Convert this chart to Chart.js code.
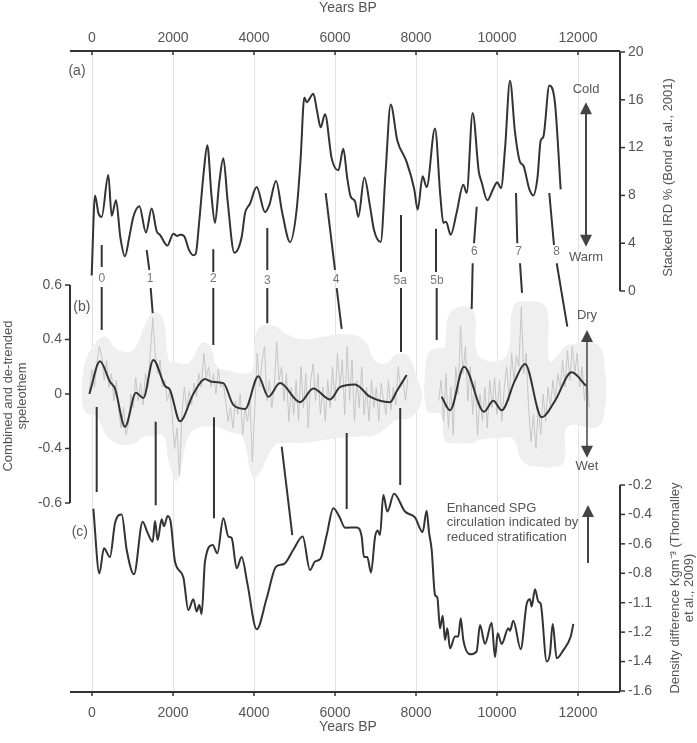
<!DOCTYPE html>
<html>
<head>
<meta charset="utf-8">
<script src="https://cdn.jsdelivr.net/npm/chart.js@4.4.1/dist/chart.umd.min.js"></script>
<style>
  html, body { margin: 0; padding: 0; background: #fff; }
  #wrap { width: 697px; height: 743px; }
</style>
</head>
<body>
<div id="wrap"><canvas id="holocene-chart" width="697" height="743"></canvas></div>
<script>
// tick labels
const yearTicks = [0, 2000, 4000, 6000, 8000, 10000, 12000]
const irdTicks = [0, 4, 8, 12, 16, 20]
const spelTickLabels = [0.6, 0.4, 0, -0.4, -0.6]
const densTickLabels = [-0.2, -0.4, -0.6, -0.8, -1.1, -1.2, -1.4, -1.6]

// (a) stacked IRD %, [years BP, %]
const irdSeries = [
  [-8, 1.3], [74, 8.0], [160, 6.5], [239, 6.2], [403, 9.7], [486, 6.3], [593, 7.6], [700, 4.5],
  [815, 2.9], [920, 4.5], [1020, 6.2], [1169, 7.1], [1333, 4.9], [1473, 6.9], [1597, 5.0],
  [1679, 4.7], [1860, 3.8], [2008, 4.8], [2100, 4.6], [2173, 4.7], [2272, 4.6], [2400, 3.4],
  [2502, 3.0], [2560, 3.1], [2650, 5.9], [2760, 10.0], [2848, 12.2], [2950, 8.0], [3037, 5.7],
  [3140, 9.0], [3243, 11.1], [3350, 7.5], [3514, 3.2], [3695, 4.5], [3778, 6.5], [3901, 7.3],
  [4066, 8.7], [4272, 6.6], [4379, 7.2], [4543, 9.2], [4700, 6.5], [4889, 4.1], [5053, 6.8],
  [5150, 11.0], [5243, 16.2], [5300, 15.8], [5465, 16.5], [5560, 15.0], [5646, 13.7],
  [5753, 14.8], [5918, 11.1], [6082, 10.1], [6206, 11.9], [6300, 9.5], [6387, 7.9], [6494, 7.5],
  [6576, 6.2], [6725, 9.5], [6864, 7.1], [6963, 5.1], [7128, 4.1], [7250, 10.0], [7375, 15.6],
  [7539, 12.6], [7769, 10.8], [7958, 8.5], [8041, 6.8], [8164, 9.6], [8263, 8.7], [8469, 13.6],
  [8600, 8.0], [8675, 5.7], [8741, 5.8], [8856, 4.7], [9000, 6.5], [9169, 8.9], [9251, 8.2],
  [9399, 14.9], [9550, 10.0], [9621, 9.1], [9761, 7.6], [9900, 8.5], [10008, 9.1], [10099, 8.6],
  [10200, 12.0], [10321, 17.6], [10444, 13.3], [10568, 10.8], [10650, 10.5], [10800, 8.5],
  [10897, 8.0], [11000, 9.5], [11079, 12.6], [11144, 12.9], [11292, 17.2], [11432, 15.7],
  [11572, 8.5]
]

// (b) combined speleothem, smoothed
const spelSmooth1 = [
  [-66, 0.0], [198, 0.24], [444, 0.09], [568, 0.04], [815, -0.24], [1086, 0.01], [1267, -0.03],
  [1514, 0.25], [1802, 0.06], [1926, 0.03], [2173, -0.2], [2502, 0.0], [2790, 0.11], [2955, 0.09],
  [3243, 0.08], [3490, -0.08], [3778, -0.11], [4107, 0.13], [4354, -0.02], [4642, 0.08],
  [5136, -0.06], [5465, 0.04], [5877, -0.04], [6123, 0.05], [6494, 0.07], [6864, -0.02],
  [7358, -0.06], [7523, 0.02], [7770, 0.14]
]
const spelSmooth2 = [
  [8634, -0.02], [8840, -0.12], [9185, 0.2], [9679, -0.13], [9909, -0.05], [10115, -0.12],
  [10444, 0.1], [10691, 0.22], [11103, -0.17], [11432, -0.05], [11844, 0.16], [12198, 0.06]
]

// (b) raw speleothem record
const spelRaw1 = [
  [-70, 0.02], [0, 0.18], [60, 0.05], [120, 0.22], [180, 0.35], [240, 0.28], [300, 0.1],
  [360, 0.25], [420, 0.05], [480, 0.15], [540, -0.05], [600, 0.1], [660, -0.12], [720, -0.25],
  [780, -0.1], [840, -0.3], [900, -0.22], [960, 0.0], [1020, -0.1], [1080, 0.12], [1140, -0.05],
  [1200, 0.08], [1260, -0.08], [1320, 0.15], [1380, 0.05], [1440, 0.3], [1500, 0.48], [1560, 0.3],
  [1620, 0.15], [1680, 0.25], [1740, 0.05], [1800, 0.1], [1860, -0.05], [1920, 0.02], [1980, -0.15],
  [2040, -0.4], [2100, -0.25], [2160, -0.5], [2220, -0.15], [2280, 0.05], [2340, -0.12],
  [2400, 0.02], [2460, -0.08], [2520, 0.08], [2580, -0.02], [2640, 0.15], [2700, 0.05],
  [2760, 0.3], [2820, 0.12], [2880, 0.2], [2940, 0.05], [3000, 0.15], [3060, 0.0], [3120, 0.18],
  [3180, 0.05], [3240, 0.08], [3300, -0.05], [3360, -0.2], [3420, -0.1], [3480, -0.25],
  [3540, -0.05], [3600, -0.15], [3660, 0.0], [3720, -0.3], [3780, -0.1], [3840, -0.2],
  [3900, -0.05], [3960, -0.45], [4020, -0.1], [4080, 0.3], [4140, 0.05], [4200, 0.25],
  [4260, 0.35], [4320, -0.05], [4380, 0.1], [4440, -0.1], [4500, 0.05], [4560, 0.38], [4620, 0.1],
  [4680, 0.2], [4740, -0.05], [4800, 0.15], [4860, -0.2], [4920, 0.05], [4980, -0.15], [5040, 0.1],
  [5100, -0.2], [5160, 0.2], [5220, -0.1], [5280, 0.15], [5340, -0.25], [5400, 0.1], [5460, 0.22],
  [5520, -0.05], [5580, 0.15], [5640, -0.15], [5700, 0.05], [5760, -0.2], [5820, 0.1],
  [5880, -0.1], [5940, 0.2], [6000, -0.05], [6060, 0.3], [6120, 0.05], [6180, 0.25],
  [6240, -0.15], [6300, 0.35], [6360, -0.05], [6420, 0.25], [6480, -0.2], [6540, 0.1],
  [6600, -0.1], [6660, 0.2], [6720, -0.15], [6780, 0.05], [6840, -0.2], [6900, 0.1],
  [6960, -0.1], [7020, 0.05], [7080, -0.2], [7140, 0.08], [7200, -0.05], [7260, -0.15],
  [7320, 0.1], [7380, -0.12], [7440, 0.05], [7500, -0.08], [7560, 0.2], [7620, 0.05],
  [7680, 0.1], [7740, -0.05], [7800, 0.12]
]
const spelRaw2 = [
  [8560, -0.05], [8620, 0.1], [8680, -0.2], [8740, 0.15], [8800, -0.25], [8860, 0.05],
  [8920, -0.3], [8980, 0.2], [9040, 0.0], [9100, 0.45], [9160, 0.15], [9220, 0.35], [9280, -0.05],
  [9340, 0.2], [9400, -0.15], [9460, 0.1], [9520, -0.3], [9580, 0.0], [9640, -0.2], [9700, 0.05],
  [9760, -0.25], [9820, 0.1], [9880, -0.1], [9940, 0.12], [10000, -0.15], [10060, 0.1],
  [10120, -0.2], [10180, 0.05], [10240, 0.2], [10300, -0.05], [10360, 0.3], [10420, 0.1],
  [10480, 0.28], [10540, 0.2], [10600, 0.52], [10660, 0.15], [10720, 0.3], [10780, -0.1],
  [10840, -0.35], [10900, -0.15], [10960, -0.4], [11020, -0.1], [11080, -0.3], [11140, 0.0],
  [11200, -0.2], [11260, 0.05], [11320, -0.1], [11380, 0.1], [11440, -0.05], [11500, 0.15],
  [11560, 0.05], [11620, 0.25], [11680, 0.05], [11740, 0.32], [11800, 0.1], [11860, 0.35],
  [11920, 0.15], [11980, 0.3], [12040, 0.05], [12100, 0.2], [12160, -0.05], [12220, 0.1],
  [12280, -0.1]
]

// (b) uncertainty envelope, [years BP, upper, lower]
const spelBand1 = [
  [-250, 0.1, -0.05], [-150, 0.25, -0.14], [100, 0.38, -0.16], [350, 0.41, -0.3],
  [600, 0.33, -0.36], [1000, 0.32, -0.37], [1300, 0.45, -0.31], [1500, 0.5, -0.31],
  [1750, 0.48, -0.3], [1900, 0.25, -0.45], [2100, 0.23, -0.52], [2400, 0.23, -0.3],
  [2700, 0.37, -0.24], [2900, 0.36, -0.24], [3100, 0.2, -0.24], [3400, 0.17, -0.28],
  [3700, 0.15, -0.31], [3950, 0.17, -0.5], [4100, 0.44, -0.5], [4500, 0.45, -0.38],
  [4800, 0.42, -0.36], [5200, 0.4, -0.36], [5700, 0.41, -0.34], [6200, 0.42, -0.32],
  [6700, 0.4, -0.31], [7000, 0.24, -0.3], [7300, 0.23, -0.24], [7500, 0.29, -0.19],
  [7800, 0.28, -0.18], [8050, 0.1, -0.12], [8150, 0.02, -0.04]
]
const spelBand2 = [
  [8200, 0.05, -0.02], [8300, 0.3, -0.13], [8600, 0.34, -0.15], [8700, 0.34, -0.34],
  [8850, 0.5, -0.36], [9400, 0.51, -0.36], [9550, 0.28, -0.34], [10200, 0.27, -0.32],
  [10400, 0.52, -0.33], [10650, 0.54, -0.45], [11200, 0.52, -0.47], [11300, 0.24, -0.47],
  [11650, 0.34, -0.45], [11750, 0.36, -0.24], [12500, 0.36, -0.24], [12700, 0.1, -0.05]
]

// (c) density difference, [years BP, Kg m-3]
const densSeries = [
  [33, -0.36], [181, -0.8], [296, -0.63], [444, -0.69], [568, -0.46], [733, -0.4], [856, -0.64],
  [1037, -0.81], [1251, -0.45], [1366, -0.52], [1498, -0.585], [1556, -0.445], [1621, -0.574],
  [1720, -0.433], [1778, -0.48], [1869, -0.41], [1942, -0.45], [2049, -0.72], [2255, -0.84],
  [2379, -1.125], [2502, -1.064], [2584, -1.13], [2650, -1.108], [2708, -1.138], [2790, -0.72],
  [2980, -0.608], [3094, -0.664], [3243, -0.426], [3366, -0.55], [3449, -0.56], [3572, -0.766],
  [3695, -0.69], [3835, -0.9], [4066, -1.19], [4313, -1.055], [4543, -0.755], [4741, -0.737],
  [4971, -0.64], [5202, -0.55], [5383, -0.778], [5506, -0.72], [5646, -0.7], [5795, -0.54],
  [5959, -0.358], [6107, -0.415], [6250, -0.49], [6535, -0.488], [6659, -0.55], [6716, -0.69],
  [6798, -0.69], [6889, -0.796], [6988, -0.555], [7054, -0.51], [7111, -0.54], [7193, -0.268],
  [7292, -0.38], [7457, -0.26], [7728, -0.38], [7975, -0.42], [8164, -0.52], [8263, -0.375],
  [8321, -0.52], [8387, -0.64], [8469, -1.02], [8527, -1.046], [8593, -1.187], [8659, -1.144],
  [8716, -1.254], [8773, -1.187], [8840, -1.31], [8963, -1.23], [9045, -1.23], [9104, -1.153],
  [9169, -1.254], [9333, -1.35], [9498, -1.33], [9580, -1.176], [9704, -1.28], [9868, -1.168],
  [9951, -1.37], [10017, -1.208], [10115, -1.28], [10280, -1.187], [10321, -1.195],
  [10403, -1.161], [10585, -1.316], [10733, -1.104], [10815, -1.064], [10856, -1.113],
  [10938, -0.962], [11020, -1.088], [11079, -1.104], [11227, -1.4], [11309, -1.344],
  [11375, -1.172], [11474, -1.378], [11638, -1.322], [11820, -1.23], [11885, -1.172]
]

// Bond events and the tie lines between the records
const eventNames = ['0', '1', '2', '3', '4', '5a', '5b', '6', '7', '8']
const eventLabelAt = [
  [240, 1.0], [1432, 1.0], [2995, 1.0], [4328, 0.9], [6025, 0.95], [7610, 0.9], [8519, 0.9],
  [9440, 3.3], [10536, 3.3], [11474, 3.3]
]
const eventTiesA = [
  [240, 3.85, 240, 2.0], [1351, 3.43, 1415, 1.76], [2995, 3.5, 2995, 1.6], [4328, 5.27, 4328, 1.76],
  [5770, 8.2, 6000, 1.76], [7630, 6.36, 7630, 1.6], [8494, 5.2, 8494, 1.6], [9499, 7.05, 9432, 4.0],
  [10469, 8.2, 10501, 4.0], [11291, 8.2, 11407, 3.85]
]
const eventTiesB = [
  [240, 0.593, 240, 0.435], [1449, 0.589, 1499, 0.497], [2995, 0.589, 2995, 0.36],
  [4328, 0.589, 4328, 0.46], [6042, 0.589, 6165, 0.439], [7630, 0.589, 7630, 0.308],
  [8511, 0.589, 8511, 0.396], [9400, 0.68, 9375, 0.512], [10568, 0.68, 10617, 0.571],
  [11474, 0.68, 11736, 0.447]
]
const eventTiesC = [
  [116, -0.096, 116, -0.56], [1573, -0.204, 1573, -0.608], [3012, -0.17, 3012, -0.656],
  [4684, -0.387, 4946, -0.718], [6289, -0.287, 6289, -0.622], [7610, -0.103, 7610, -0.534]
]

const FONT = '"Liberation Sans", Arial, sans-serif'
const INK = '#333'
const TEXT = '#555'

// the speleothem and density axes are evenly spaced but their labels are not,
// so values are placed by interpolating between neighbouring tick labels
function toIdx (v, labels) {
  let i = 0
  while (i < labels.length - 2 && v < labels[i + 1]) i++
  return i + (labels[i] - v) / (labels[i] - labels[i + 1])
}
const toB = v => toIdx(v, spelTickLabels)
const toC = v => toIdx(v, densTickLabels)

function pts (pairs, map) {
  return pairs.map(([x, y]) => ({ x, y: map ? map(y) : y }))
}

function ties (list, map) {
  const out = []
  for (const [x1, y1, x2, y2] of list) {
    out.push({ x: x1, y: map ? map(y1) : y1 }, { x: x2, y: map ? map(y2) : y2 }, { x: x2, y: null })
  }
  return out
}

function lineSet (data, axis, color, width, extra) {
  return Object.assign({
    data,
    yAxisID: axis,
    borderColor: color,
    borderWidth: width,
    pointRadius: 0,
    fill: false,
    cubicInterpolationMode: 'monotone'
  }, extra || {})
}

function bandSet (data, col, fill) {
  return {
    data: data.map(r => ({ x: r[0], y: toB(r[col]) })),
    yAxisID: 'yB',
    borderWidth: 0,
    borderColor: 'rgba(0,0,0,0)',
    backgroundColor: '#efefef',
    pointRadius: 0,
    tension: 0.4,
    fill
  }
}

function drawArrow (ctx, x, yTop, yBot, heads, color, width) {
  const hw = 6
  const hl = 12
  ctx.strokeStyle = color
  ctx.fillStyle = color
  ctx.lineWidth = width
  ctx.beginPath()
  ctx.moveTo(x, heads.top ? yTop + hl - 1 : yTop)
  ctx.lineTo(x, heads.bottom ? yBot - hl + 1 : yBot)
  ctx.stroke()
  if (heads.top) {
    ctx.beginPath()
    ctx.moveTo(x, yTop)
    ctx.lineTo(x - hw, yTop + hl)
    ctx.lineTo(x + hw, yTop + hl)
    ctx.closePath()
    ctx.fill()
  }
  if (heads.bottom) {
    ctx.beginPath()
    ctx.moveTo(x, yBot)
    ctx.lineTo(x - hw, yBot - hl)
    ctx.lineTo(x + hw, yBot - hl)
    ctx.closePath()
    ctx.fill()
  }
}

function drawYAxis (ctx, xPix, scale, ticks, labels, side) {
  const dir = side === 'right' ? 1 : -1
  ctx.strokeStyle = INK
  ctx.lineWidth = 2
  ctx.beginPath()
  ctx.moveTo(xPix, scale.getPixelForValue(ticks[0]))
  ctx.lineTo(xPix, scale.getPixelForValue(ticks[ticks.length - 1]))
  ctx.stroke()
  ctx.font = `14px ${FONT}`
  ctx.fillStyle = TEXT
  ctx.textAlign = side === 'right' ? 'left' : 'right'
  ctx.textBaseline = 'middle'
  ctx.lineWidth = 1.5
  ticks.forEach((t, i) => {
    const py = scale.getPixelForValue(t)
    ctx.beginPath()
    ctx.moveTo(xPix, py)
    ctx.lineTo(xPix + dir * 5, py)
    ctx.stroke()
    ctx.fillText(String(labels[i]), xPix + dir * 8, py)
  })
}

function drawXAxis (ctx, yPix, x, area, labelY, titleY) {
  ctx.strokeStyle = INK
  ctx.lineWidth = 2
  ctx.beginPath()
  ctx.moveTo(area.left, yPix)
  ctx.lineTo(area.right, yPix)
  ctx.stroke()
  ctx.lineWidth = 1.5
  ctx.font = `14px ${FONT}`
  ctx.fillStyle = TEXT
  ctx.textAlign = 'center'
  ctx.textBaseline = 'middle'
  for (const t of yearTicks) {
    const px = x.getPixelForValue(t)
    ctx.beginPath()
    ctx.moveTo(px, yPix)
    ctx.lineTo(px, yPix + 4)
    ctx.stroke()
    ctx.fillText(String(t), px, labelY)
  }
  ctx.fillText('Years BP', (area.left + area.right) / 2 + 3, titleY)
}

function rotatedText (ctx, lines, cx, cy, gap) {
  ctx.save()
  ctx.translate(cx, cy)
  ctx.rotate(-Math.PI / 2)
  ctx.textAlign = 'center'
  ctx.textBaseline = 'middle'
  lines.forEach((s, i) => ctx.fillText(s, 0, i * gap))
  ctx.restore()
}

const panelDecor = {
  id: 'panelDecor',
  beforeDatasetsDraw (chart) {
    const { ctx, chartArea, scales: { x } } = chart
    ctx.save()
    ctx.strokeStyle = '#e2e2e2'
    ctx.lineWidth = 1
    for (const t of yearTicks) {
      const px = Math.round(x.getPixelForValue(t)) + 0.5
      ctx.beginPath()
      ctx.moveTo(px, chartArea.top)
      ctx.lineTo(px, chartArea.bottom)
      ctx.stroke()
    }
    ctx.restore()
  },
  afterDatasetsDraw (chart) {
    const { ctx, chartArea, scales: { x, yA, yB, yC } } = chart
    ctx.save()

    drawXAxis(ctx, chartArea.top, x, chartArea, chartArea.top - 13, 8)
    drawXAxis(ctx, chartArea.bottom, x, chartArea, chartArea.bottom + 21, chartArea.bottom + 35)
    drawYAxis(ctx, chartArea.right, yA, irdTicks, irdTicks, 'right')
    drawYAxis(ctx, chartArea.left, yB, spelTickLabels.map((v, i) => i), spelTickLabels, 'left')
    drawYAxis(ctx, chartArea.right, yC, densTickLabels.map((v, i) => i), densTickLabels, 'right')

    // axis titles
    ctx.font = `13px ${FONT}`
    ctx.fillStyle = TEXT
    rotatedText(ctx, ['Stacked IRD % (Bond et al., 2001)'], 668, yA.getPixelForValue(9.5), 0)
    rotatedText(ctx, ['Combined and de-trended', 'speleothem'], 8, yB.getPixelForValue(toB(0)) + 2, 14)
    rotatedText(ctx, ['Density difference Kgm\u207B\u00B3 (Thornalley', 'et al., 2009)'], 675, yC.getPixelForValue(toC(-0.95)), 14)

    // panel letters
    ctx.font = `14px ${FONT}`
    ctx.textAlign = 'center'
    ctx.textBaseline = 'middle'
    ctx.fillText('(a)', x.getPixelForValue(-370), yA.getPixelForValue(18.4))
    ctx.fillText('(b)', x.getPixelForValue(-250), yB.getPixelForValue(toB(0.52)))
    ctx.fillText('(c)', x.getPixelForValue(-300), yC.getPixelForValue(toC(-0.52)))

    // event numbers
    ctx.font = `12px ${FONT}`
    ctx.fillStyle = '#777'
    eventNames.forEach((name, i) => {
      const [yr, v] = eventLabelAt[i]
      ctx.fillText(name, x.getPixelForValue(yr), yA.getPixelForValue(v))
    })

    // direction arrows
    const ax = x.getPixelForValue(12198)
    ctx.font = `13px ${FONT}`
    ctx.fillStyle = TEXT
    ctx.fillText('Cold', ax, yA.getPixelForValue(16.9))
    ctx.fillText('Warm', ax, yA.getPixelForValue(2.85))
    drawArrow(ctx, ax, yA.getPixelForValue(15.8), yA.getPixelForValue(3.7), { top: true, bottom: true }, '#444', 2)

    const bx = x.getPixelForValue(12222)
    ctx.fillStyle = TEXT
    ctx.fillText('Dry', bx, yB.getPixelForValue(toB(0.49)))
    ctx.fillText('Wet', bx, yB.getPixelForValue(toB(-0.465)))
    drawArrow(ctx, bx, yB.getPixelForValue(toB(0.435)), yB.getPixelForValue(toB(-0.434)), { top: true, bottom: true }, '#444', 1.5)

    const cx = x.getPixelForValue(12247)
    drawArrow(ctx, cx, yC.getPixelForValue(toC(-0.336)), yC.getPixelForValue(toC(-0.73)), { top: true, bottom: false }, '#444', 2)

    ctx.fillStyle = TEXT
    ctx.font = `13px ${FONT}`
    ctx.textAlign = 'left'
    const ty = yC.getPixelForValue(toC(-0.356))
    const tx = x.getPixelForValue(8757)
    ;['Enhanced SPG', 'circulation indicated by', 'reduced stratification'].forEach((s, i) => {
      ctx.fillText(s, tx, ty + i * 14.5)
    })

    ctx.restore()
  }
}

const tieStyle = { tension: 0, cubicInterpolationMode: 'default', spanGaps: false }

new Chart(document.getElementById('holocene-chart'), {
  type: 'line',
  data: {
    datasets: [
      lineSet(pts(irdSeries), 'yA', INK, 2),
      lineSet(pts(spelSmooth1, toB), 'yB', INK, 2),
      lineSet(pts(spelSmooth2, toB), 'yB', INK, 2),
      lineSet(pts(densSeries, toC), 'yC', INK, 2),
      lineSet(ties(eventTiesA), 'yA', INK, 2, tieStyle),
      lineSet(ties(eventTiesB, toB), 'yB', INK, 2, tieStyle),
      lineSet(ties(eventTiesC, toB), 'yB', INK, 2, tieStyle),
      lineSet(pts(spelRaw1, toB), 'yB', '#c6c6c6', 1, { cubicInterpolationMode: 'default', tension: 0 }),
      lineSet(pts(spelRaw2, toB), 'yB', '#c6c6c6', 1, { cubicInterpolationMode: 'default', tension: 0 }),
      bandSet(spelBand1, 1, '+1'),
      bandSet(spelBand1, 2, false),
      bandSet(spelBand2, 1, '+1'),
      bandSet(spelBand2, 2, false)
    ]
  },
  options: {
    responsive: false,
    animation: false,
    devicePixelRatio: 1,
    events: [],
    layout: {
      padding: { left: 70, right: 77, top: 51, bottom: 51 }
    },
    scales: {
      x: { type: 'linear', min: -543, max: 13037, display: false },
      yA: { type: 'linear', min: -33.556, max: 20.084, display: false },
      yB: { type: 'linear', reverse: true, min: -4.294, max: 7.468, display: false },
      yC: { type: 'linear', reverse: true, min: -14.748, max: 7.034, display: false }
    },
    plugins: {
      legend: { display: false },
      tooltip: { enabled: false }
    }
  },
  plugins: [panelDecor]
})
</script>
</body>
</html>
